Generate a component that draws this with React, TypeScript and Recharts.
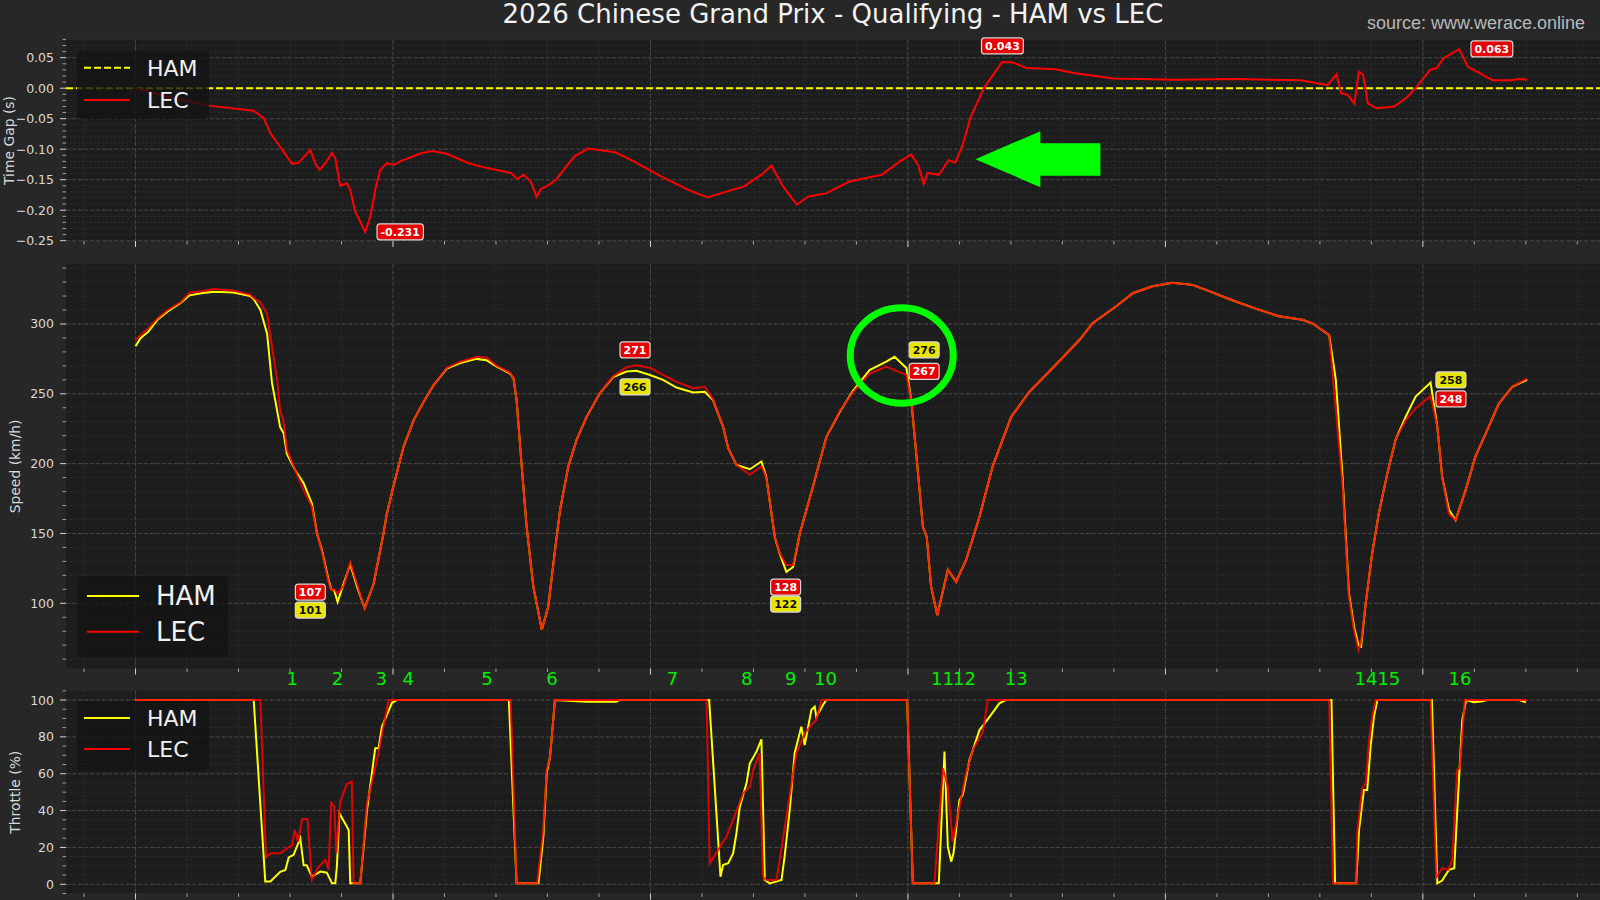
import React from 'react'
import { LineChart, Line, XAxis, YAxis, CartesianGrid, ReferenceLine, ReferenceDot } from 'recharts'

const range = (a: number, b: number, step: number) =>
  Array.from({ length: Math.round((b - a) / step) + 1 }, (_, i) => +(a + i * step).toFixed(4))

// distance along the lap (m)
const X_DOMAIN: [number, number] = [-270, 5688]
const xTicks = range(-200, 5600, 200)
const xMajor = [0, 1000, 2000, 3000, 4000, 5000]

// ---- time gap (LEC relative to HAM, s)
const gapDist = [
  0, 150, 291, 459, 498, 524, 575, 608, 634, 679,
  698, 715, 737, 763, 776, 795, 821, 834, 853, 873,
  892, 912, 931, 950, 976, 1002, 1028, 1106, 1152, 1206,
  1294, 1366, 1459, 1482, 1508, 1535, 1558, 1575, 1597, 1633,
  1704, 1757, 1864, 1935, 2043, 2149, 2221, 2292, 2363, 2434,
  2470, 2515, 2568, 2612, 2684, 2773, 2898, 2969, 3013, 3040,
  3061, 3076, 3120, 3158, 3184, 3210, 3244, 3296, 3366, 3409,
  3461, 3574, 3643, 3799, 4041, 4266, 4526, 4630, 4665, 4682,
  4708, 4734, 4751, 4768, 4786, 4820, 4889, 4941, 4976, 5028,
  5054, 5080, 5141, 5175, 5219, 5271, 5340, 5374, 5406,
]
const lecGap = [
  0, -0.017, -0.029, -0.037, -0.049, -0.074, -0.104, -0.124, -0.122, -0.101,
  -0.123, -0.134, -0.123, -0.106, -0.115, -0.16, -0.156, -0.167, -0.202, -0.219,
  -0.236, -0.21, -0.167, -0.134, -0.123, -0.126, -0.12, -0.107, -0.103, -0.107,
  -0.123, -0.131, -0.139, -0.149, -0.142, -0.153, -0.178, -0.165, -0.161, -0.15,
  -0.112, -0.099, -0.105, -0.12, -0.145, -0.167, -0.179, -0.17, -0.161, -0.141,
  -0.127, -0.161, -0.191, -0.178, -0.172, -0.153, -0.142, -0.12, -0.109, -0.126,
  -0.157, -0.139, -0.142, -0.118, -0.122, -0.096, -0.047, 0.001, 0.043, 0.042,
  0.033, 0.031, 0.025, 0.016, 0.014, 0.015, 0.013, 0.005, 0.023, -0.008,
  -0.011, -0.025, 0.027, 0.022, -0.025, -0.033, -0.03, -0.014, 0.002, 0.03,
  0.033, 0.049, 0.064, 0.035, 0.025, 0.013, 0.013, 0.015, 0.014,
]
const gapMajor = [-0.25, -0.2, -0.15, -0.1, -0.05, 0, 0.05]
const gapTicks = range(-0.25, 0.08, 0.01)

// ---- speed (km/h)
const speedDist = [
  0, 20, 50, 85, 125, 175, 210, 255, 305, 380,
  445, 460, 485, 511, 530, 550, 562, 575, 588, 621,
  653, 685, 705, 724, 750, 760, 772, 785, 810, 834,
  860, 890, 925, 963, 976, 1002, 1041, 1080, 1118, 1157,
  1209, 1261, 1325, 1364, 1403, 1455, 1468, 1480, 1500, 1519,
  1545, 1578, 1603, 1623, 1649, 1681, 1713, 1752, 1804, 1855,
  1907, 1946, 1998, 2049, 2101, 2166, 2211, 2243, 2282, 2302,
  2334, 2386, 2431, 2450, 2483, 2502, 2528, 2554, 2580, 2631,
  2683, 2735, 2786, 2851, 2916, 2948, 2994, 3013, 3032, 3058,
  3073, 3090, 3114, 3155, 3187, 3226, 3278, 3329, 3401, 3472,
  3562, 3666, 3717, 3808, 3873, 3950, 4028, 4105, 4170, 4260,
  4351, 4441, 4532, 4571, 4636, 4662, 4688, 4713, 4733, 4750,
  4760, 4778, 4803, 4829, 4862, 4894, 4933, 4972, 5030, 5056,
  5075, 5101, 5127, 5166, 5204, 5256, 5295, 5347, 5380, 5405,
]
const hamSpeed = [
  284, 290, 294.5, 303, 309, 315, 320.5, 322, 323, 322.5,
  320, 317.5, 310, 293, 258, 238, 226, 222, 207, 195,
  186, 171.5, 150, 138, 116.5, 110, 109, 101, 115, 128,
  112, 96.5, 114, 150, 164, 184, 212, 231, 244, 256,
  268, 272, 275, 274, 269.5, 264.5, 261, 245.5, 198, 155,
  112, 81, 97.5, 128.5, 167, 198, 217, 233.5, 250.5, 262,
  266, 266.5, 263.5, 260, 254.5, 251, 251.5, 245.5, 226.5, 211,
  199, 196, 201.5, 190.5, 147.5, 135.5, 122.5, 126, 150, 183.5,
  219, 237, 252, 267, 273, 276.5, 268.5, 245.5, 207.5, 155,
  147.5, 112, 91.5, 124, 115.5, 131, 162, 198, 233.5, 251.5,
  268.5, 288.5, 300.5, 312.5, 322, 327, 329.5, 328, 323.5, 317,
  311, 305.5, 303, 300.5, 292, 260, 190.5, 107, 83, 70,
  69, 100, 135.5, 164.5, 193, 217, 233.5, 248, 258, 226.5,
  190.5, 167, 159.5, 181, 205, 226.5, 243, 255, 258, 260,
]
const lecSpeed = [
  288.5, 292, 297, 304, 310, 315.5, 322.5, 323.5, 325, 324,
  321, 318.5, 315.5, 307, 284, 260, 238, 230, 210, 195,
  181, 169, 150, 137, 115, 109.5, 110, 107, 113, 129.5,
  114, 96, 114, 150, 164, 184, 212, 231, 244, 256,
  268.5, 273, 276.5, 276, 270, 265, 261, 245.5, 198, 155,
  112, 81, 97.5, 128, 167, 198, 217, 233.5, 250.5, 262.5,
  269, 270.5, 268.5, 263.5, 258.5, 254, 255, 246, 226.5, 211,
  199, 192, 198, 190, 148, 136, 127.5, 127.5, 150, 183.5,
  219, 237.5, 251, 264.5, 269.5, 267, 263.5, 245.5, 207.5, 155,
  147.5, 112, 91.5, 124, 115.5, 131, 162, 198, 233.5, 251.5,
  268.5, 288.5, 300.5, 312.5, 322, 327, 329.5, 328, 323.5, 317,
  311, 305.5, 303, 300.5, 292, 238.5, 185, 105, 80, 66.5,
  72, 100, 135.5, 164.5, 193, 217, 231, 239.5, 248.5, 226.5,
  190.5, 164, 159.5, 181, 205, 226.5, 243, 255, 258.5, 261,
]
const speedMajor = [100, 150, 200, 250, 300]
const speedTicks = range(60, 340, 10)

// ---- throttle (%)
const hamThrDist = [
  0, 459, 504, 524, 562, 582, 595, 614, 640, 653,
  665, 685, 718, 743, 763, 776, 782, 792, 828, 834,
  873, 899, 931, 944, 957, 996, 1015, 1450, 1480, 1565,
  1584, 1597, 1610, 1629, 1752, 1868, 1880, 2228, 2272, 2282,
  2302, 2321, 2334, 2347, 2373, 2386, 2412, 2431, 2444, 2463,
  2509, 2521, 2541, 2560, 2586, 2599, 2625, 2638, 2644, 2670,
  2683, 2997, 3019, 3120, 3142, 3155, 3168, 3177, 3200, 3213,
  3239, 3278, 3317, 3355, 3380, 4645, 4659, 4741, 4752, 4771,
  4784, 4797, 4810, 4823, 5035, 5056, 5075, 5101, 5122, 5133,
  5153, 5168, 5198, 5231, 5250, 5374, 5400,
]
const hamThr = [
  100, 100, 1.5, 1.5, 6.8, 7.8, 14.6, 16, 25, 10.3,
  10.3, 4.2, 6.9, 6.3, 0.5, 0.5, 9.5, 38.5, 29.5, 0.5,
  0.5, 40.3, 73.8, 73.8, 85.5, 98.5, 100, 100, 0.5, 0.5,
  25.8, 60.2, 69.2, 100, 99, 99, 100, 100, 4.1, 10.5,
  11.4, 16.8, 27.7, 42.1, 54.8, 65.7, 72, 78.7, 2.3, 0.5,
  2.3, 15, 40.3, 71.1, 85.5, 75.6, 94.6, 96.4, 90.9, 97.3,
  100, 100, 0.5, 0.5, 72, 20.4, 12.3, 16.8, 45.7, 48.5,
  67.4, 83.7, 90.9, 98.2, 100, 100, 0.5, 0.5, 29.5, 51.2,
  51.2, 74.7, 90.9, 100, 100, 0.5, 2, 7.8, 8.7, 38.5,
  89.1, 100, 98.8, 99.3, 100, 100, 98.8,
]
const lecThrDist = [
  0, 485, 507, 524, 562, 588, 608, 618, 631, 647,
  668, 685, 711, 737, 750, 760, 772, 780, 795, 821,
  840, 847, 873, 899, 938, 983, 1457, 1480, 1560, 1584,
  1597, 1610, 1629, 2218, 2230, 2295, 2321, 2360, 2386, 2399,
  2424, 2437, 2450, 2489, 2502, 2534, 2554, 2567, 2599, 2631,
  2644, 2664, 2997, 3019, 3103, 3136, 3155, 3174, 3200, 3226,
  3252, 3291, 3310, 4636, 4651, 4741, 4745, 4764, 4778, 4791,
  4803, 4817, 5030, 5052, 5075, 5098, 5114, 5133, 5143, 5163,
  5405,
]
const lecThr = [
  100, 100, 14.6, 16.8, 16.8, 19.5, 21.3, 29.5, 23.1, 35.4,
  35.4, 2.3, 9.5, 13.2, 7.8, 44, 42.1, 16.8, 44.8, 54.4,
  55.7, 0.5, 0.5, 44, 67.4, 100, 100, 0.5, 0.5, 30,
  62, 69, 100, 100, 11.4, 25.8, 34.9, 49.4, 53, 62,
  71.1, 4.1, 2.3, 2.3, 13.2, 42.1, 60.2, 71.1, 81.9, 87.4,
  89.1, 100, 100, 0.5, 0.5, 62.9, 53, 23.1, 42.1, 60.2,
  72.9, 82.8, 100, 100, 0.5, 0.5, 27.7, 52.1, 54.8, 78.3,
  90.9, 100, 100, 3.8, 8.7, 7.8, 13.2, 62, 63, 100,
  100,
]
const thrMajor = [0, 20, 40, 60, 80, 100]
const thrTicks = range(-5, 105, 5)

// corner numbers
const turnDist = [609, 784, 954, 1059, 1365, 1618, 2086, 2374, 2545, 2680, 3134, 3220, 3421, 4779, 4868, 5144]
const turnLabels = ['1', '2', '3', '4', '5', '6', '7', '8', '9', '10', '11', '12', '13', '14', '15', '16']

// value call-outs (anchor distance, anchor value, text, driver)
const gapNotes = [
  { d: 1028, v: -0.2355, text: '-0.231', driver: 'LEC' },
  { d: 3367, v: 0.0693, text: '0.043', driver: 'LEC' },
  { d: 5268, v: 0.0644, text: '0.063', driver: 'LEC' },
]
const speedNotes = [
  { d: 679, v: 108, text: '107', driver: 'LEC' },
  { d: 679, v: 95.1, text: '101', driver: 'HAM' },
  { d: 1940, v: 281.4, text: '271', driver: 'LEC' },
  { d: 1940, v: 254.9, text: '266', driver: 'HAM' },
  { d: 2525, v: 111.6, text: '128', driver: 'LEC' },
  { d: 2525, v: 99.4, text: '122', driver: 'HAM' },
  { d: 3063, v: 281.4, text: '276', driver: 'HAM' },
  { d: 3063, v: 266, text: '267', driver: 'LEC' },
  { d: 5109, v: 259.9, text: '258', driver: 'HAM' },
  { d: 5109, v: 246.3, text: '248', driver: 'LEC' },
]

const HAM = '#ffff00'
const LEC = '#ff0000'
const FONT = 'DejaVu Sans'
const pts = (xs: number[], ys: number[]) => xs.map((d, i) => ({ d, v: ys[i] }))

const XTick = (props: any) => {
  const { x, y, payload } = props
  const major = payload.value % 1000 === 0
  return <line x1={x} x2={x} y1={y} y2={y + (major ? 6 : 3.5)} stroke={major ? '#d4d4d4' : '#a0a0a0'} strokeWidth={1} />
}

const yTick = (isMajor: (v: number) => boolean, fmt: (v: number) => string) => (props: any) => {
  const { x, y, payload } = props
  const v = payload.value
  const major = isMajor(v)
  return (
    <g>
      <line x1={x - (major ? 6 : 3.5)} x2={x} y1={y} y2={y} stroke={major ? '#d4d4d4' : '#a0a0a0'} strokeWidth={1} />
      {major && <text x={x - 12} y={y} dy="0.36em" textAnchor="end" fontSize={12.5} fill="#d8d8d8" fontFamily={FONT}>{fmt(v)}</text>}
    </g>
  )
}

const charW = (s: string) => s.split('').reduce((w, c) => w + (c === '.' ? 0.38 : c === '-' ? 0.41 : 0.696), 0)

const Badge = ({ cx, cy, text, driver }: any) => {
  const w = charW(text) * 11 + 7
  const h = 16
  const ham = driver === 'HAM'
  return (
    <g>
      <rect x={cx - w / 2} y={cy - h / 2} width={w} height={h} rx={3} fill={ham ? '#e8e600' : '#e60000'} stroke="#d8d8d8" strokeWidth={1.2} />
      <text x={cx} y={cy} dy="0.36em" textAnchor="middle" fontSize={11} fontWeight="bold" fill={ham ? '#111' : '#fff'} fontFamily={FONT}>{text}</text>
    </g>
  )
}

const xAxis = (h: number) => (
  <XAxis dataKey="d" type="number" domain={X_DOMAIN} allowDataOverflow ticks={xTicks} interval={0}
    tickSize={0} tickMargin={0} axisLine={false} tickLine={false} tick={XTick} height={h} />
)

const Overlay = () => (
  <svg width={1600} height={900} style={{ position: 'absolute', left: 0, top: 0, pointerEvents: 'none' }} fontFamily={FONT}>
    <text x={833} y={23} textAnchor="middle" fontSize={26} fill="#f2f2f2">2026 Chinese Grand Prix - Qualifying - HAM vs LEC</text>
    <text x={1585} y={29} textAnchor="end" fontSize={18} fill="#b8b8b8" fontFamily="Liberation Sans">source: www.werace.online</text>

    <text transform="translate(8.5,140.5) rotate(-90)" dy="0.36em" textAnchor="middle" fontSize={13.9} fill="#d8d8d8">Time Gap (s)</text>
    <text transform="translate(14.5,466.4) rotate(-90)" dy="0.36em" textAnchor="middle" fontSize={13.9} fill="#d8d8d8">Speed (km/h)</text>
    <text transform="translate(14.5,792.2) rotate(-90)" dy="0.36em" textAnchor="middle" fontSize={13.9} fill="#d8d8d8">Throttle (%)</text>

    <rect x={77} y={51} width={132} height={68} rx={4} fill="rgba(20,20,20,0.8)" />
    <line x1={84} x2={130} y1={67.7} y2={67.7} stroke={HAM} strokeWidth={2} strokeDasharray="7 3" />
    <text x={147} y={67.7} dy="0.36em" fontSize={22} fill="#f0f0f0">HAM</text>
    <line x1={84} x2={130} y1={100} y2={100} stroke={LEC} strokeWidth={2} />
    <text x={147} y={100} dy="0.36em" fontSize={22} fill="#f0f0f0">LEC</text>

    <rect x={78} y={576} width={150} height={81} rx={4} fill="rgba(20,20,20,0.8)" />
    <line x1={87} x2={139} y1={596} y2={596} stroke={HAM} strokeWidth={2} />
    <text x={156} y={596} dy="0.36em" fontSize={26} fill="#f0f0f0">HAM</text>
    <line x1={87} x2={139} y1={631.7} y2={631.7} stroke={LEC} strokeWidth={2} />
    <text x={156} y={631.7} dy="0.36em" fontSize={26} fill="#f0f0f0">LEC</text>

    <rect x={77} y={701} width={132} height={70} rx={4} fill="rgba(20,20,20,0.8)" />
    <line x1={84} x2={130} y1={718} y2={718} stroke={HAM} strokeWidth={2} />
    <text x={147} y={718} dy="0.36em" fontSize={22} fill="#f0f0f0">HAM</text>
    <line x1={84} x2={130} y1={749} y2={749} stroke={LEC} strokeWidth={2} />
    <text x={147} y={749} dy="0.36em" fontSize={22} fill="#f0f0f0">LEC</text>
  </svg>
)

const App: React.FC = () => (
  <div style={{ position: 'absolute', left: 0, top: 0, width: 1600, height: 900, background: '#272727', overflow: 'hidden', fontFamily: FONT }}>
    <div style={{ position: 'absolute', left: 0, top: 0 }}>
      <LineChart width={1600} height={255} margin={{ top: 40, right: 0, bottom: 4, left: 0 }}>
        <CartesianGrid fill="#1d1d1d" stroke="#2d2d2d" strokeDasharray="2 2" verticalValues={xTicks} horizontalValues={gapTicks} />
        <CartesianGrid stroke="#464646" strokeDasharray="4 2" verticalValues={xMajor} horizontalValues={gapMajor} />
        {xAxis(10)}
        <YAxis type="number" domain={[-0.2505, 0.079]} allowDataOverflow ticks={gapTicks} interval={0} width={66}
          tickSize={0} tickMargin={0} axisLine={false} tickLine={false}
          tick={yTick((v) => Math.abs(Math.round(v * 100)) % 5 === 0, (v) => (Math.abs(v) < 1e-9 ? '0.00' : v.toFixed(2).replace('-', '\u2212')))} />
        <ReferenceLine y={0} stroke={HAM} strokeWidth={2} strokeDasharray="7 3" />
        <Line data={pts(gapDist, lecGap)} dataKey="v" type="linear" stroke={LEC} strokeWidth={2} dot={false} isAnimationActive={false} />
        {gapNotes.map((n, i) => (
          <ReferenceDot key={i} x={n.d} y={n.v} ifOverflow="visible" shape={(p: any) => <Badge cx={p.cx} cy={p.cy} text={n.text} driver={n.driver} />} />
        ))}
        <ReferenceDot x={3262} y={-0.1164} ifOverflow="visible" shape={(p: any) => (
          <polygon fill="#00ff00" points={[[0, 0], [65, -28], [65, -16], [125, -16], [125, 16.5], [65, 16.5], [65, 28]].map(([a, b]) => `${p.cx + a},${p.cy + b}`).join(' ')} />
        )} />
      </LineChart>
    </div>

    <div style={{ position: 'absolute', left: 0, top: 250 }}>
      <LineChart width={1600} height={430} margin={{ top: 14.2, right: 0, bottom: 1.5, left: 0 }}>
        <CartesianGrid fill="#1d1d1d" stroke="#2d2d2d" strokeDasharray="2 2" verticalValues={xTicks} horizontalValues={speedTicks} />
        <CartesianGrid stroke="#464646" strokeDasharray="4 2" verticalValues={xMajor} horizontalValues={speedMajor} />
        {xAxis(10)}
        <YAxis type="number" domain={[53.3, 342.8]} allowDataOverflow ticks={speedTicks} interval={0} width={66}
          tickSize={0} tickMargin={0} axisLine={false} tickLine={false}
          tick={yTick((v) => v % 50 === 0, (v) => String(v))} />
        <Line data={pts(speedDist, hamSpeed)} dataKey="v" type="linear" stroke={HAM} strokeWidth={2} dot={false} isAnimationActive={false} />
        <Line data={pts(speedDist, lecSpeed)} dataKey="v" type="linear" stroke={LEC} strokeOpacity={0.85} strokeWidth={2} dot={false} isAnimationActive={false} />
        {speedNotes.map((n, i) => (
          <ReferenceDot key={i} x={n.d} y={n.v} ifOverflow="visible" shape={(p: any) => <Badge cx={p.cx} cy={p.cy} text={n.text} driver={n.driver} />} />
        ))}
        <ReferenceDot x={2976} y={277.4} ifOverflow="visible" shape={(p: any) => (
          <ellipse cx={p.cx} cy={p.cy} rx={51.5} ry={47.7} fill="none" stroke="#00ff00" strokeWidth={7} />
        )} />
      </LineChart>
    </div>

    <div style={{ position: 'absolute', left: 0, top: 660 }}>
      <LineChart width={1600} height={240} margin={{ top: 30.8, right: 0, bottom: 0.5, left: 0 }}>
        <CartesianGrid fill="#1d1d1d" stroke="#2d2d2d" strokeDasharray="2 2" verticalValues={xTicks} horizontalValues={thrTicks} />
        <CartesianGrid stroke="#464646" strokeDasharray="4 2" verticalValues={xMajor} horizontalValues={thrMajor} />
        {xAxis(6)}
        <YAxis type="number" domain={[-5, 105]} allowDataOverflow ticks={thrTicks} interval={0} width={66}
          tickSize={0} tickMargin={0} axisLine={false} tickLine={false}
          tick={yTick((v) => v >= 0 && v % 20 === 0, (v) => String(v))} />
        <Line data={pts(hamThrDist, hamThr)} dataKey="v" type="linear" stroke={HAM} strokeWidth={2} dot={false} isAnimationActive={false} />
        <Line data={pts(lecThrDist, lecThr)} dataKey="v" type="linear" stroke={LEC} strokeOpacity={0.85} strokeWidth={2} dot={false} isAnimationActive={false} />
        {turnDist.map((d, i) => (
          <ReferenceDot key={i} x={d} y={111.4} ifOverflow="visible" shape={(p: any) => (
            <text x={p.cx} y={p.cy} dy="0.36em" textAnchor="middle" fontSize={18} fill="#00ee00" fontFamily={FONT}>{turnLabels[i]}</text>
          )} />
        ))}
      </LineChart>
    </div>

    <Overlay />
  </div>
)

export default App
